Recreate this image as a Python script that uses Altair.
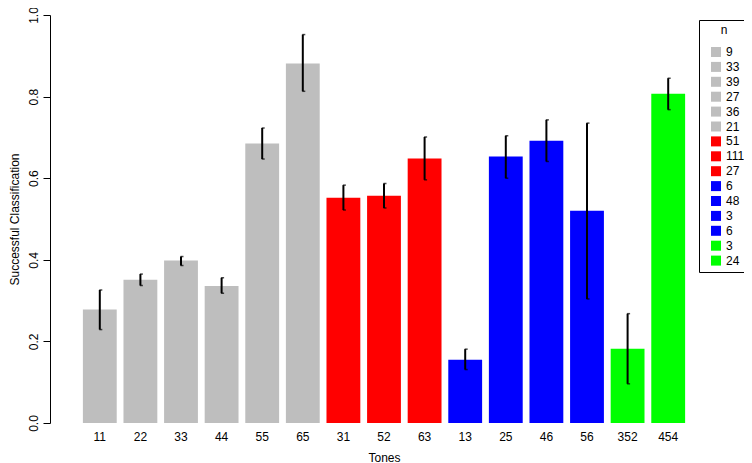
import altair as alt
import pandas as pd

tones = ["11", "22", "33", "44", "55", "65", "31", "52", "63", "13", "25", "46", "56", "352", "454"]
success = [0.278, 0.351, 0.398, 0.336, 0.685, 0.881, 0.552, 0.557, 0.648, 0.155, 0.653, 0.692, 0.520, 0.182, 0.807]
err_hi = [0.326, 0.365, 0.408, 0.356, 0.723, 0.952, 0.583, 0.587, 0.701, 0.181, 0.704, 0.743, 0.735, 0.268, 0.845]
err_lo = [0.229, 0.337, 0.386, 0.318, 0.647, 0.813, 0.522, 0.527, 0.596, 0.131, 0.600, 0.641, 0.304, 0.096, 0.768]
n_vals = [9, 33, 39, 27, 36, 21, 51, 111, 27, 6, 48, 3, 6, 3, 24]
colors = ["#BEBEBE"] * 6 + ["#FF0000"] * 3 + ["#0000FF"] * 4 + ["#00FF00"] * 2

keys = [f"{i:02d}|{n}" for i, n in enumerate(n_vals)]
df = pd.DataFrame({"tone": tones, "succ": success, "hi": err_hi, "lo": err_lo, "key": keys})

xs = alt.Scale(paddingInner=1 / 6, paddingOuter=0.81)
x_axis = alt.Axis(title="Tones", domain=False, ticks=False, labelAngle=0, labelPadding=8,
                  labelFontSize=12, labelColor="black", titleFontSize=12, titleFontWeight="normal",
                  titleColor="black", titleBaseline="middle", titleY=34)

base = alt.Chart(df)

bars = base.mark_bar().encode(
    x=alt.X("tone:N", sort=tones, scale=xs, axis=x_axis),
    y=alt.Y("succ:Q", scale=alt.Scale(domain=[0, 1], nice=False),
            axis=alt.Axis(values=[0, 0.2, 0.4, 0.6, 0.8, 1.0], format=".1f", grid=False,
                          labelAngle=270, labelAlign="center", labelBaseline="alphabetic",
                          labelPadding=6, tickSize=7, tickColor="black", domainColor="black",
                          labelFontSize=12, labelColor="black",
                          title="Successful Classification", titleFontSize=12,
                          titleFontWeight="normal", titleColor="black", titleAngle=270,
                          titleX=-36, titleY=204, titleAlign="center", titleBaseline="middle")),
    color=alt.Color("key:N", scale=alt.Scale(domain=keys, range=colors),
                    legend=alt.Legend(title="n", orient="none", legendX=649, legendY=5,
                                      strokeColor="black", padding=5, symbolType="square",
                                      symbolSize=100, symbolStrokeWidth=0, symbolOffset=6,
                                      labelOffset=4, labelFontSize=12, labelColor="black",
                                      titleFontSize=12, titleFontWeight="normal", titleColor="black",
                                      titleAnchor="middle", titleAlign="center",
                                      rowPadding=2.9, titlePadding=9,
                                      labelExpr="split(datum.label, '|')[1]")),
)

rules = base.mark_rule(color="black", strokeWidth=2).encode(
    x=alt.X("tone:N", sort=tones, scale=xs), y="lo:Q", y2="hi:Q")
cap_hi = base.mark_tick(color="black", size=3, thickness=1.5, xOffset=1).encode(
    x=alt.X("tone:N", sort=tones, scale=xs), y="hi:Q")
cap_lo = base.mark_tick(color="black", size=3, thickness=1.5, xOffset=1).encode(
    x=alt.X("tone:N", sort=tones, scale=xs), y="lo:Q")

chart = alt.layer(bars, rules, cap_hi, cap_lo).properties(
    width=668, height=408,
    padding={"left": 42, "top": 7, "right": 26, "bottom": 40},
    autosize=alt.AutoSizeParams(type="none"),
).configure(font="Liberation Sans", view=alt.ViewConfig(stroke=None))

chart.save("out.html", embed_options={"renderer": "svg", "actions": False})
